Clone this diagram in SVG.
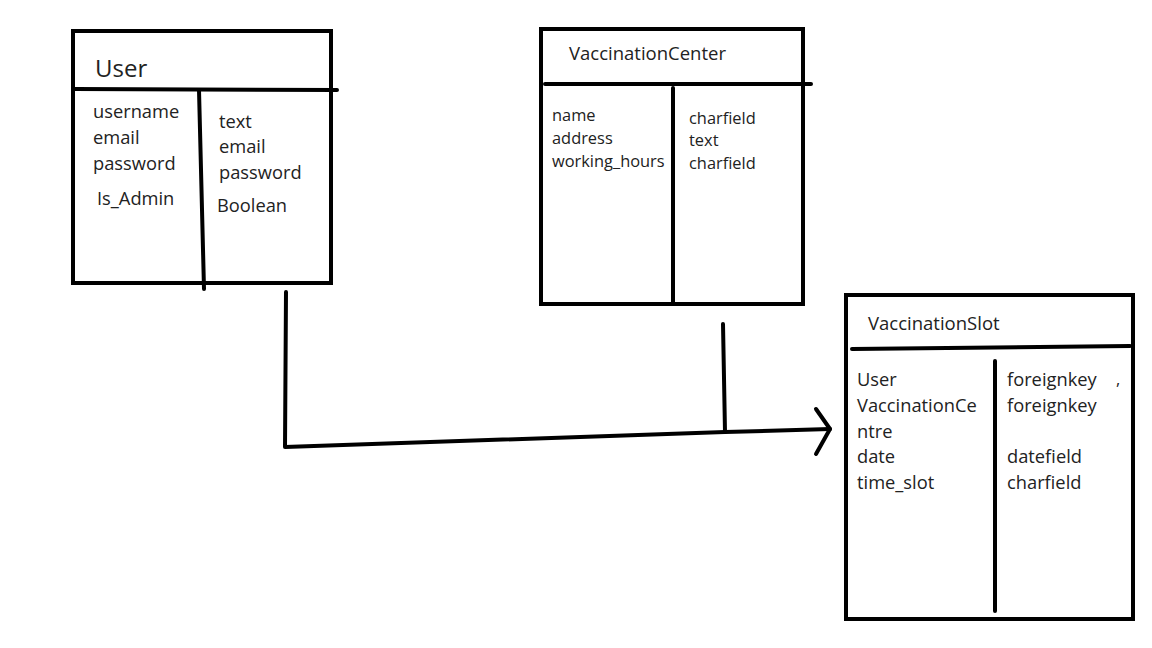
<svg xmlns="http://www.w3.org/2000/svg" width="1152" height="648" viewBox="0 0 1152 648">
<style>
.box{fill:#fff;stroke:#000;stroke-width:4}
.ln{fill:none;stroke:#000;stroke-width:4;stroke-linecap:round;stroke-linejoin:round}
text{font-family:"Open Sans","Noto Sans","Liberation Sans",sans-serif;fill:#222}
.t1{font-size:18.3px}
.t2{font-size:16.4px}
.ti{font-size:18.5px}
</style>
<rect width="1152" height="648" fill="#fff"/>
<g id="user">
<rect class="box" x="73" y="31" width="258" height="252"/>
<path class="ln" d="M75 89 L337 90"/>
<path class="ln" d="M199 90 L204 289"/>
<text x="95" y="77" style="font-size:24px">User</text>
<text class="t1" x="93" y="118">username</text>
<text class="t1" x="93" y="144">email</text>
<text class="t1" x="93" y="170">password</text>
<text class="t1" x="97" y="205">Is_Admin</text>
<text class="t1" x="219" y="128">text</text>
<text class="t1" x="219" y="153">email</text>
<text class="t1" x="219" y="179">password</text>
<text class="t1" x="217" y="212">Boolean</text>
</g>
<g id="vaccinationcenter">
<rect class="box" x="541" y="29" width="262" height="275"/>
<path class="ln" d="M545 84 L811 84"/>
<path class="ln" d="M673 88 L673 302"/>
<text class="ti" x="569" y="60">VaccinationCenter</text>
<text class="t2" x="552" y="121">name</text>
<text class="t2" x="552" y="144">address</text>
<text class="t2" x="552" y="167">working_hours</text>
<text class="t2" x="689" y="124">charfield</text>
<text class="t2" x="689" y="146">text</text>
<text class="t2" x="689" y="169">charfield</text>
</g>
<g id="vaccinationslot">
<rect class="box" x="846" y="295" width="287" height="324"/>
<path class="ln" d="M852 349 L1130 346"/>
<path class="ln" d="M995 361 L995 611"/>
<text class="ti" x="868" y="330">VaccinationSlot</text>
<text class="t1" x="857" y="386">User</text>
<text class="t1" x="857" y="412">VaccinationCe</text>
<text class="t1" x="857" y="438">ntre</text>
<text class="t1" x="857" y="463">date</text>
<text class="t1" x="857" y="489">time_slot</text>
<text class="t1" x="1007" y="386">foreignkey</text>
<text class="t1" x="1007" y="412">foreignkey</text>
<text class="t1" x="1007" y="463">datefield</text>
<text class="t1" x="1007" y="489">charfield</text>
<text class="t2" x="1116" y="385">,</text>
</g>
<g id="connectors">
<path class="ln" d="M286 292 L285 447 L725 432 L830 429"/>
<path class="ln" d="M723 324 L725 432"/>
<path class="ln" d="M816 409 L830 429 L816 454"/>
</g>
</svg>
